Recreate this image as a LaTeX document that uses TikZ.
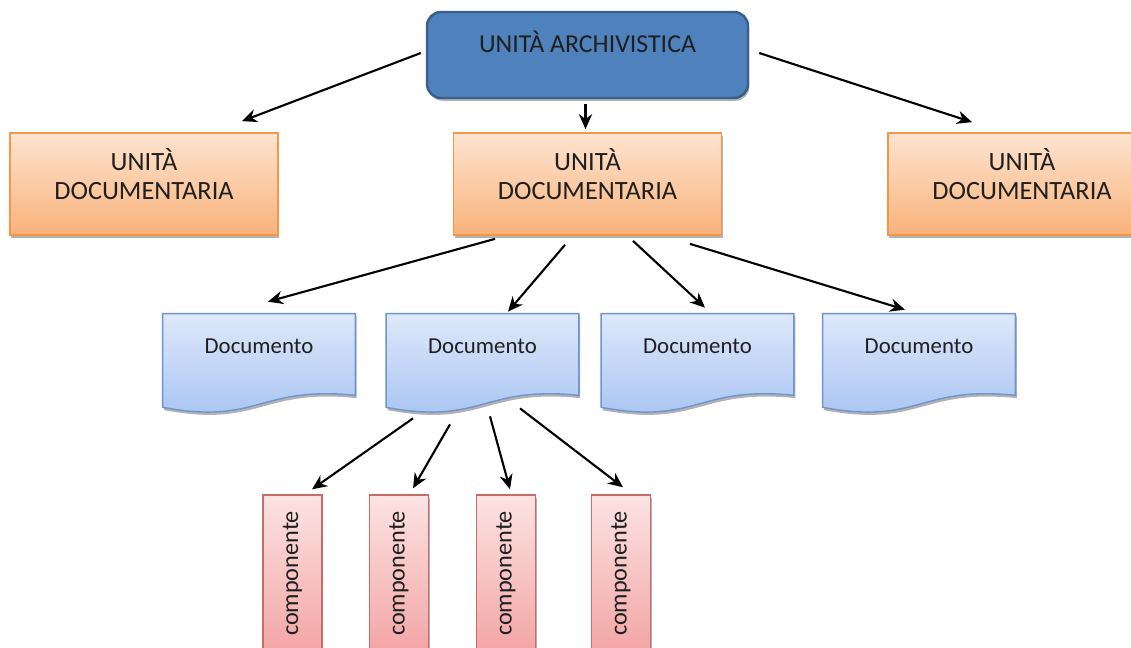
\documentclass[tikz,border=0pt]{standalone}
\usepackage{fontspec}
\setmainfont{Carlito}
\usepackage{graphicx}
\usetikzlibrary{arrows.meta,backgrounds,shadows}

\definecolor{archFill}{HTML}{4F81BD}
\definecolor{archLine}{HTML}{3A5F8C}
\definecolor{unitTop}{HTML}{FDE4D0}
\definecolor{unitBottom}{HTML}{F9B27B}
\definecolor{unitLine}{HTML}{F79646}
\definecolor{docTop}{HTML}{DEE8FA}
\definecolor{docBottom}{HTML}{A5C2F1}
\definecolor{docLine}{HTML}{6F94D2}
\definecolor{compTop}{HTML}{FCE3E3}
\definecolor{compBottom}{HTML}{F3A5A5}
\definecolor{compLine}{HTML}{C86B6B}
\definecolor{textGray}{HTML}{1F1F1F}

\begin{document}
\begin{tikzpicture}[
        x=0.02cm, y=-0.02cm,
        softShadow/.style={drop shadow={shadow xshift=0.8pt, shadow yshift=-1.6pt, opacity=0.3, fill=black}},
        archNode/.style={rectangle, rounded corners=0.28cm, draw=archLine, line width=1.4pt, fill=archFill, minimum width=6.42cm, minimum height=1.72cm, inner sep=0pt, font=\fontsize{14.7}{17}\selectfont, text=textGray, text height=0.34cm, text depth=0.44cm, softShadow},
        unitNode/.style={rectangle, draw=unitLine, line width=1pt, top color=unitTop, bottom color=unitBottom, minimum width=5.36cm, minimum height=2.04cm, inner sep=0pt, align=center, font=\fontsize{15}{16.5}\selectfont, text=textGray, text height=0.9cm, text depth=0.28cm, softShadow},
        docNode/.style={rectangle, minimum width=3.84cm, minimum height=1.86cm, inner sep=0pt, font=\fontsize{13}{15}\selectfont, text=textGray, text height=0.3cm, text depth=0.58cm},
        docShape/.style={draw=docLine, line width=0.8pt, top color=docTop, bottom color=docBottom, softShadow},
        compNode/.style={rectangle, draw=compLine, line width=0.8pt, top color=compTop, bottom color=compBottom, minimum width=1.18cm, minimum height=3.14cm, inner sep=0pt, font=\fontsize{13.8}{16}\selectfont, text=textGray, softShadow},
        link/.style={-{Stealth[length=8.5pt,width=7.5pt]}, line width=1.2pt, black}
    ]
        \useasboundingbox (0,0) rectangle (1131,648);

        % Archival unit
        \node[archNode] (ua) at (587.5,55) {UNITÀ ARCHIVISTICA};

        % Documentary units
        \node[unitNode] (ud1) at (144,184) {UNITÀ\\DOCUMENTARIA};
        \node[unitNode] (ud2) at (587.5,184) {UNITÀ\\DOCUMENTARIA};
        \node[unitNode] (ud3) at (1022,184) {UNITÀ\\DOCUMENTARIA};

        % Documents
        \node[docNode] (doc1) at (259,360.5) {Documento};
        \node[docNode] (doc2) at (482.5,360.5) {Documento};
        \node[docNode] (doc3) at (697.5,360.5) {Documento};
        \node[docNode] (doc4) at (919,360.5) {Documento};
        \begin{scope}[on background layer]
            \foreach \d in {doc1,doc2,doc3,doc4}
                \path[docShape] (\d.north west) -- (\d.north east) -- ([shift={(0,-12)}]\d.south east)
                    .. controls ([shift={(0,-22)}]\d.south) and ([shift={(0,18)}]\d.south) .. (\d.south west) -- cycle;
        \end{scope}

        % Components
        \node[compNode] (c1) at (292.5,573.5) {\rotatebox{90}{componente}};
        \node[compNode] (c2) at (399,573.5) {\rotatebox{90}{componente}};
        \node[compNode] (c3) at (506,573.5) {\rotatebox{90}{componente}};
        \node[compNode] (c4) at (621,573.5) {\rotatebox{90}{componente}};

        % Edges
        \draw[link] ([shift={(-5,-2)}]ua.west) -- ([shift={(98,-11)}]ud1.north);
        \draw[link] ([shift={(-2,5)}]ua.south) -- ([shift={(-2,-3)}]ud2.north);
        \draw[link] ([shift={(10,-2)}]ua.east) -- ([shift={(-50,-10)}]ud3.north);

        \draw[link] ([shift={(-92.5,3)}]ud2.south) -- ([shift={(9,-12)}]doc1.north);
        \draw[link] ([shift={(-22.5,9)}]ud2.south) -- ([shift={(25.5,-2)}]doc2.north);
        \draw[link] ([shift={(45.5,5)}]ud2.south) -- ([shift={(7.5,-6)}]doc3.north);
        \draw[link] ([shift={(102.5,8)}]ud2.south) -- ([shift={(-14,-4)}]doc4.north);

        \draw[link] ([shift={(-69.5,11)}]doc2.south) -- ([shift={(19.5,-5)}]c1.north);
        \draw[link] ([shift={(-32.5,17)}]doc2.south) -- ([shift={(14,-6)}]c2.north);
        \draw[link] ([shift={(7.5,9)}]doc2.south) -- ([shift={(4,-5)}]c3.north);
        \draw[link] ([shift={(37.5,1)}]doc2.south) -- ([shift={(2,-7)}]c4.north);
    \end{tikzpicture}
\end{document}
